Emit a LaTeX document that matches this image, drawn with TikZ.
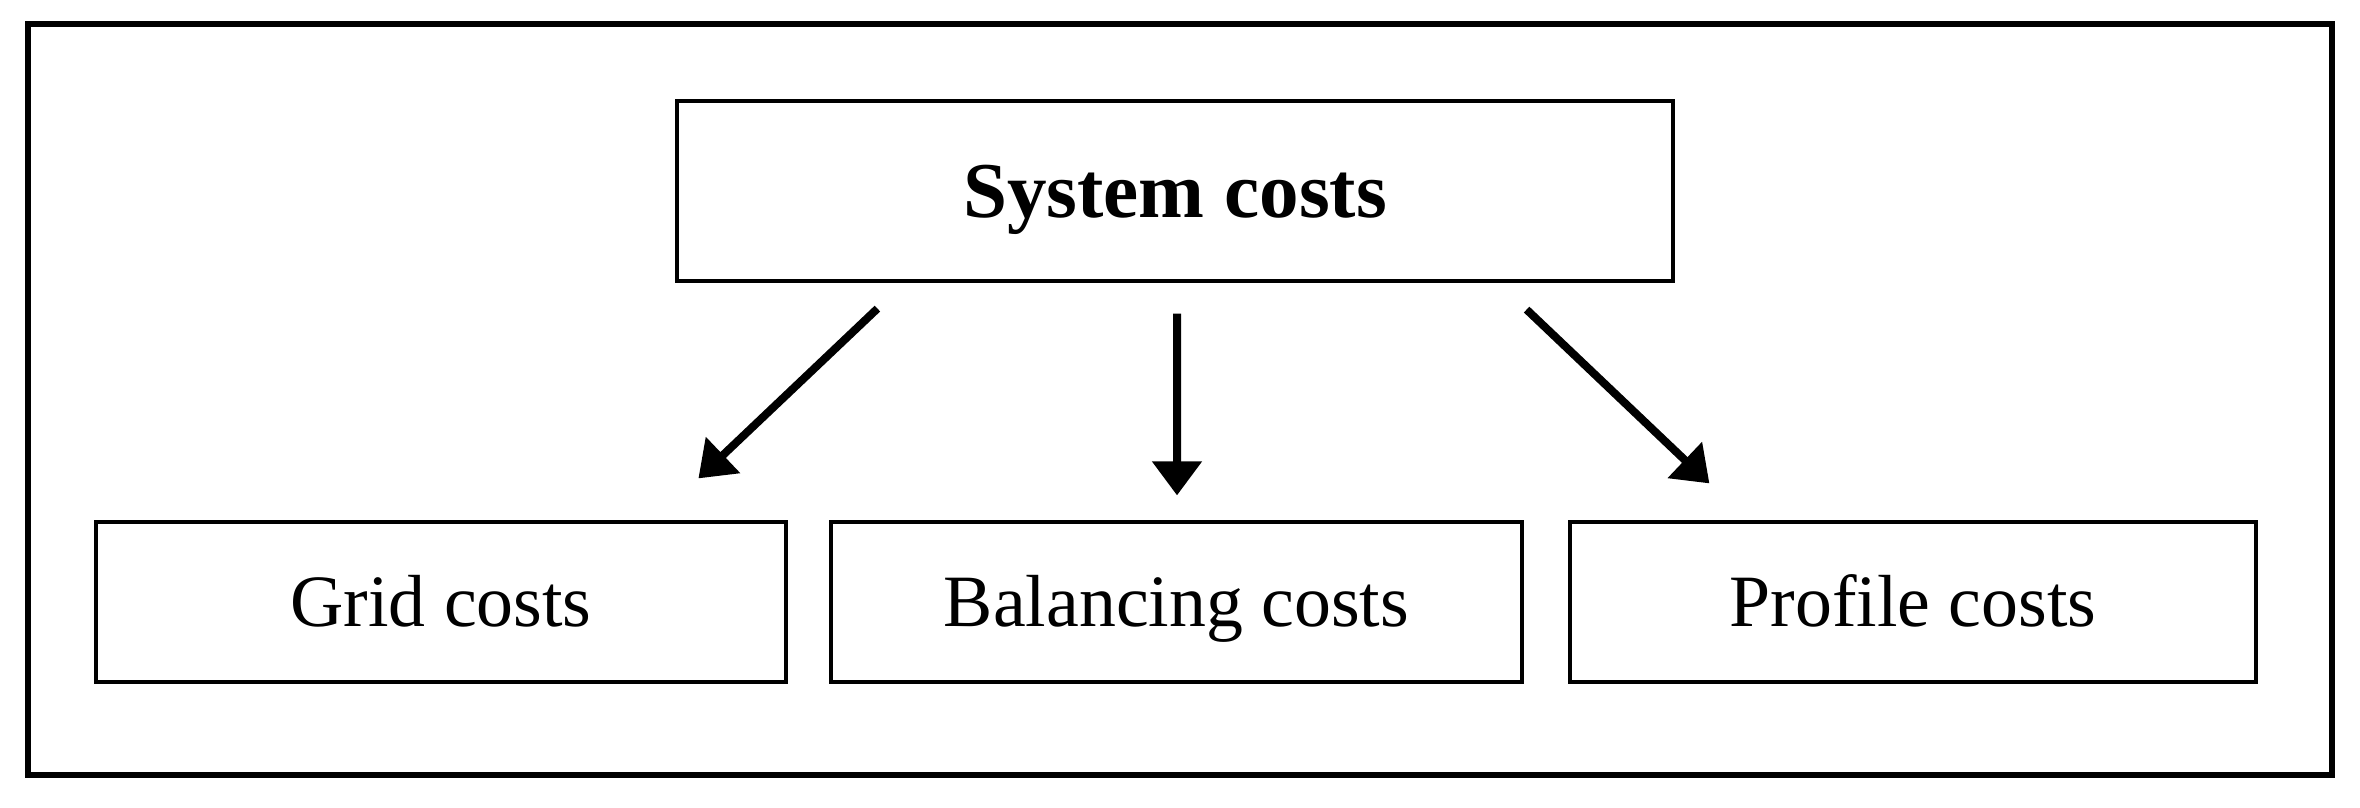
\documentclass[tikz,border=0pt]{standalone}
\usepackage{fontspec}
\setmainfont{Liberation Serif}
\usetikzlibrary{arrows.meta,calc}
\begin{document}
\begin{tikzpicture}[x=0.1mm,y=-0.1mm,
  costbox/.style={draw=black, line width=0.32mm, inner sep=0pt, minimum height=16mm, text height=13.9pt, text depth=0pt, font=\fontsize{21}{25}\selectfont},
  arr/.style={line width=0.8mm, -{Triangle[width=4.8mm,length=3.4mm]}}]
\useasboundingbox (0,0) rectangle (2360,808);
\draw[line width=0.65mm] (28,24) rectangle (2332,775);
\node[costbox, minimum width=99.6mm, minimum height=18mm, text height=15pt, font=\fontsize{22.5}{27}\selectfont\bfseries] (sys) at (1175,191) {System costs};
\node[costbox, minimum width=69mm] (grid) at (441,602) {Grid costs};
\node[costbox, minimum width=69.1mm] (bal) at (1176.5,602) {Balancing costs};
\node[costbox, minimum width=68.6mm] (prof) at (1913,602) {Profile costs};
\draw[arr] ($(sys.south west)+(202,26)$) -- ($(grid.north west)+(604,-42)$);
\draw[arr] ($(sys.south)+(2,31)$) -- ($(bal.north)+(0.5,-25)$);
\draw[arr] ($(sys.south east)+(-148,27)$) -- ($(prof.north west)+(141,-37)$);
\end{tikzpicture}
\end{document}
